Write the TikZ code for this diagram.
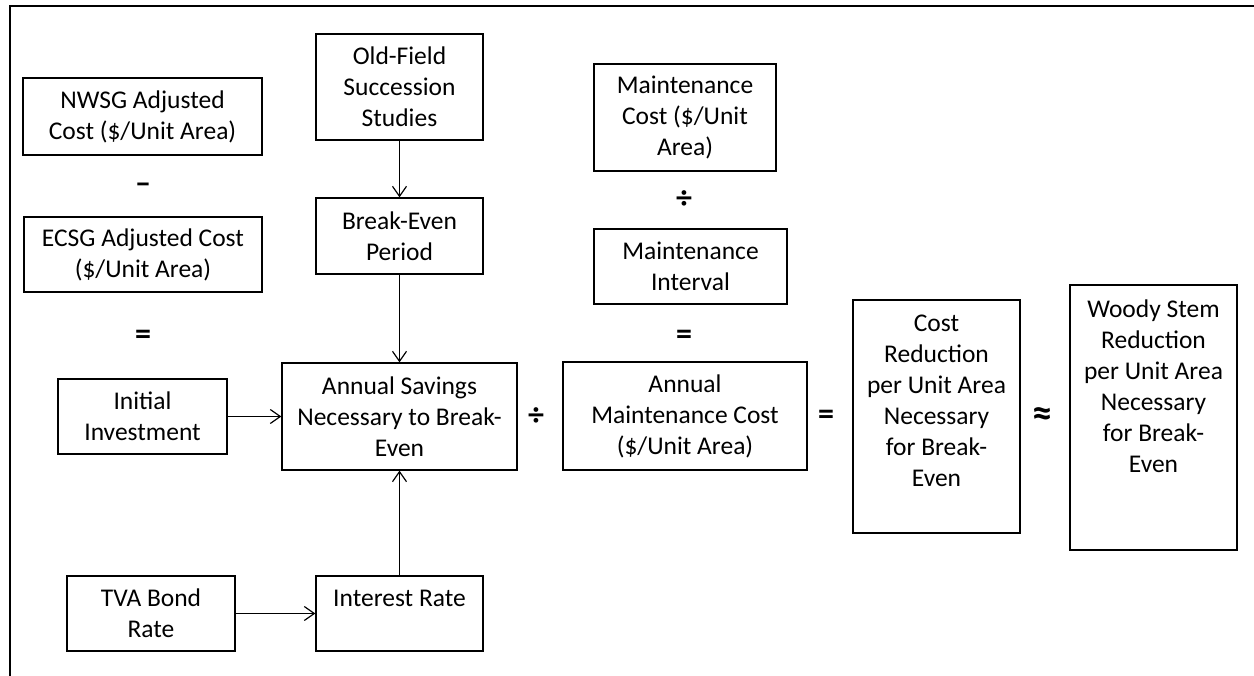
\documentclass[tikz,border=0pt]{standalone}
\usepackage{fontspec}
\setmainfont{Carlito}
\usetikzlibrary{arrows.meta}
\tikzset{
  txt/.style={font=\fontsize{25.5}{31}\selectfont},
  box/.style={draw, line width=1.3pt, inner sep=0pt, align=center, txt},
  lbl/.style={inner sep=0pt, align=center, txt},
  op/.style={inner sep=0pt, font=\fontsize{32}{34}\selectfont\bfseries},
  arr/.style={-{Straight Barb[length=10pt,width=14pt]}, line width=1.2pt},
  frame/.style={line width=2.2pt}
}
\begin{document}
\begin{tikzpicture}[x=1pt,y=-1pt]
\useasboundingbox (0,0) rectangle (1254,676);
\draw[frame] (10,676) -- (10,6) -- (1254,6);

\node[box, minimum width=239, minimum height=77] (nwsg) at (142.5,116.5) {NWSG Adjusted\\Cost (\$/Unit Area)};
\node[op] (minus) at (143,188) {–};
\node[box, minimum width=238, minimum height=75] (ecsg) at (143,254.5) {ECSG Adjusted Cost\\(\$/Unit Area)};
\node[op] (eq1) at (143,337) {=};
\node[box, minimum width=169, minimum height=75] (init) at (142.5,416.5) {Initial\\Investment};
\node[box, minimum width=168, minimum height=75] (tva) at (151,613.5) {TVA Bond\\Rate};

\node[box, minimum width=167, minimum height=106] (old) at (399.5,87) {Old-Field\\Succession\\Studies};
\node[box, minimum width=167, minimum height=76] (bep) at (399.5,236) {Break-Even\\Period};
\node[box, minimum width=235, minimum height=107] (save) at (399.5,416.5) {Annual Savings\\Necessary to Break-\\Even};
\node[box, minimum width=167, minimum height=75] (int) at (399.5,613.5) {Interest Rate\\\mbox{}};

\node[box, minimum width=182, minimum height=107] (mc) at (685,117.5) {Maintenance\\Cost (\$/Unit\\Area)};
\node[op] (div1) at (684,200) {÷};
\node[box, minimum width=193, minimum height=75] (mi) at (690.5,266.5) {Maintenance\\Interval};
\node[op] (eq2) at (684,337) {=};
\node[box, minimum width=244, minimum height=108] (amc) at (685,416) {Annual\\Maintenance Cost\\(\$/Unit Area)};

\node[op] (div2) at (536,417) {÷};
\node[op] (eq3) at (826,417) {=};
\node[box, minimum width=167, minimum height=233] (cr) at (936.5,416.5) {};
\node[lbl, anchor=north] (crt) at ([yshift=-15pt]cr.north) {Cost\\Reduction\\per Unit Area\\Necessary\\for Break-\\Even};
\node[op, font=\fontsize{40}{40}\selectfont\bfseries] (approx) at (1042,417) {≈};
\node[box, minimum width=167, minimum height=265] (ws) at (1153.5,417.5) {};
\node[lbl, anchor=north] (wst) at ([yshift=-15pt]ws.north) {Woody Stem\\Reduction\\per Unit Area\\Necessary\\for Break-\\Even};

\draw[arr] (old) -- (bep);
\draw[arr] (bep) -- (save);
\draw[arr] (int) -- (save);
\draw[arr] (init) -- (save);
\draw[arr] (tva) -- (int);
\end{tikzpicture}
\end{document}
